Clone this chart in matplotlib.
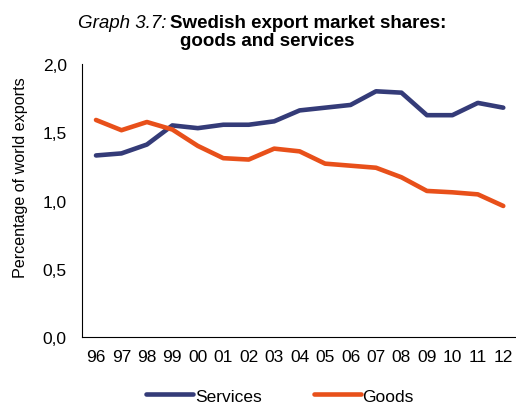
import matplotlib.pyplot as plt
import numpy as np

plt.rcParams['font.family'] = ['Liberation Sans', 'DejaVu Sans']

# data
years = ["96", "97", "98", "99", "00", "01", "02", "03", "04",
         "05", "06", "07", "08", "09", "10", "11", "12"]
services = [1.33, 1.345, 1.41, 1.55, 1.53, 1.555, 1.555, 1.58, 1.66,
            1.68, 1.70, 1.80, 1.79, 1.625, 1.625, 1.715, 1.68]
goods = [1.59, 1.515, 1.575, 1.52, 1.40, 1.31, 1.30, 1.38, 1.36,
         1.27, 1.255, 1.24, 1.17, 1.07, 1.06, 1.045, 0.96]
yticks = [0.0, 0.5, 1.0, 1.5, 2.0]

fig = plt.figure(figsize=(5.16, 4.06), dpi=100)
ax = fig.add_axes([82 / 516, 68 / 406, 434 / 516, 273 / 406])

x = np.arange(len(years))
ax.plot(x, services, color="#343B78", lw=3.3, label="Services", solid_capstyle="round")
ax.plot(x, goods, color="#E8501A", lw=3.3, label="Goods", solid_capstyle="round")

ax.set_xlim(-0.55, len(years) - 0.5)
ax.set_ylim(0, 2.0)
ax.set_xticks(x)
ax.set_xticklabels(years, fontsize=12.5)
ax.set_yticks(yticks)
ax.set_yticklabels([f"{v:.1f}".replace(".", ",") for v in yticks], fontsize=12.5)
ax.tick_params(axis="y", length=0, pad=11)
ax.tick_params(axis="x", length=0, pad=9)
ax.spines["top"].set_visible(False)
ax.spines["right"].set_visible(False)
ax.set_ylabel("Percentage of world exports", fontsize=11.6)
ax.yaxis.set_label_coords(-0.124, 0.586)

fig.text(166 / 516, 1 - 28 / 406, "Graph 3.7:", fontsize=13.5, style="italic",
         ha="right", va="baseline")
fig.text(170 / 516, 1 - 28 / 406, "Swedish export market shares:", fontsize=13.5,
         fontweight="bold", ha="left", va="baseline")
fig.text(267 / 516, 1 - 46 / 406, "goods and services", fontsize=13.5,
         fontweight="bold", ha="center", va="baseline")

fig.legend(loc="center", bbox_to_anchor=(280 / 516, 1 - 397 / 406), ncol=2,
           frameon=False, fontsize=12.5, handlelength=2.7, columnspacing=3.0,
           handletextpad=0.1)

fig.savefig("out.png", dpi=100)
